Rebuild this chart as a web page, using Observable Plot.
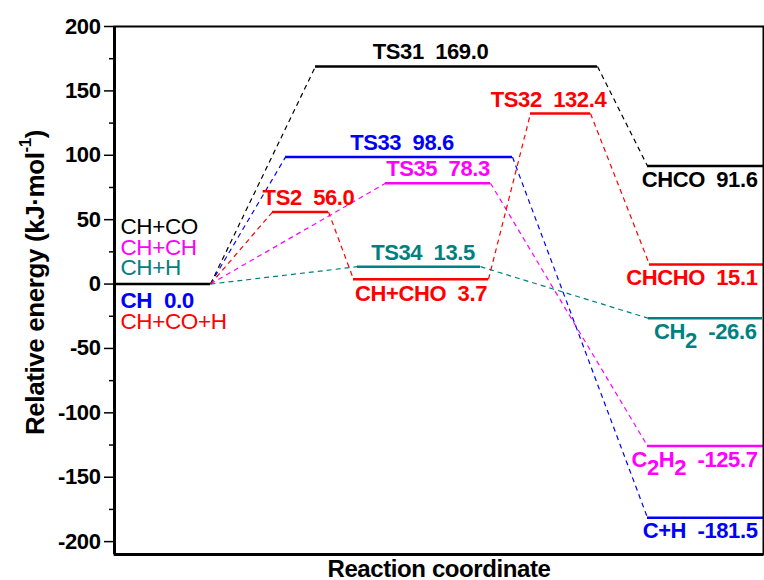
<!DOCTYPE html>
<html>
<head>
<meta charset="utf-8">
<script src="https://cdn.jsdelivr.net/npm/d3@7"></script>
<script src="https://cdn.jsdelivr.net/npm/@observablehq/plot@0.6"></script>
<style>
  html, body { margin: 0; padding: 0; background: #fff; }
</style>
</head>
<body>
<div id="chart"></div>
<script>
// ---------------- DATA ----------------
const levelNames  = ["CH", "TS2", "TS31", "TS33", "TS35", "TS34", "CH+CHO", "TS32", "CHCO", "CHCHO", "CH_{2}", "C_{2}H_{2}", "C+H"];
const levelEnergy = [0.0, 56.0, 169.0, 98.6, 78.3, 13.5, 3.7, 132.4, 91.6, 15.1, -26.6, -125.7, -181.5];
// reaction-coordinate extent of each level
const levelStart  = [1, 158, 201, 171, 271, 243, 239, 416, 533, 535, 534, 533, 533];
const levelEnd    = [96, 214, 483, 398, 376, 366, 374, 476, 649, 649, 648, 649, 649];
const levelSeries = ["CH+CO", "CH+CO+H", "CH+CO", "CH", "CH+CH", "CH+H", "CH+CO+H", "CH+CO+H", "CH+CO", "CH+CO+H", "CH+H", "CH+CH", "CH"];
const seriesNames = ["CH+CO", "CH+CH", "CH+H", "CH", "CH+CO+H"];
const pathSteps   = [
  ["CH", "TS31", "CHCO"],
  ["CH", "TS35", "C_{2}H_{2}"],
  ["CH", "TS34", "CH_{2}"],
  ["CH", "TS33", "C+H"],
  ["CH", "TS2", "CH+CHO", "TS32", "CHCHO"]
];
const yTicks      = [-200, -150, -100, -50, 0, 50, 100, 150, 200];
const yMinorTicks = [-175, -125, -75, -25, 25, 75, 125, 175];
const yLabel = "Relative energy (kJ\u00b7mol^{-1})";
const xLabel = "Reaction coordinate";

// ---------------- STYLE / LAYOUT ----------------
const seriesColors = ["#000000", "#ff00ff", "#008080", "#0000ff", "#ff0000"];
const labelShift = {"TS31": -26, "TS32": -12, "TS2": 8, "TS33": 3, "TS34": 4};
const belowCenter = new Set(["CH+CHO"]);
const belowRight = new Set(["CHCO", "CHCHO", "CH_{2}", "C_{2}H_{2}", "C+H"]);
const leftRows = [
  {series: "CH+CO", dy: -50, bold: false},
  {series: "CH+CH", dy: -29, bold: false},
  {series: "CH+H", dy: -9, bold: false},
  {series: "CH", dy: 24, bold: true},
  {series: "CH+CO+H", dy: 45, bold: false}
];

// ---------------- BUILD ----------------
const sp = "\u00a0\u00a0";
const levels = levelNames.map((name, i) => ({
  name, energy: levelEnergy[i], x1: levelStart[i], x2: levelEnd[i], series: levelSeries[i],
  label: name + sp + levelEnergy[i].toFixed(1)
}));
const byName = new Map(levels.map(d => [d.name, d]));
const links = [];
seriesNames.forEach((s, k) => {
  const steps = pathSteps[k];
  for (let j = 0; j < steps.length - 1; j++) {
    const a = byName.get(steps[j]), b = byName.get(steps[j + 1]);
    links.push({series: s, x1: a.x2, y1: a.energy, x2: b.x1, y2: b.energy});
  }
});
const ch = byName.get("CH");
const leftLabels = leftRows.map(r => ({
  ...r, x: ch.x1, y: ch.energy,
  text: r.series === "CH" ? ch.label : r.series
}));

const above = levels.filter(d => d.name !== "CH" && !belowCenter.has(d.name) && !belowRight.has(d.name));
const belowC = levels.filter(d => belowCenter.has(d.name));
const belowR = levels.filter(d => belowRight.has(d.name));
const center = d => (d.x1 + d.x2) / 2 + (labelShift[d.name] ?? 0);

const font = "'Liberation Sans', Arial, Helvetica, sans-serif";
const lvlFont = {fontSize: 22, fontWeight: "bold", fill: "series"};

const marks = [
  Plot.link(links, {x1: "x1", y1: "y1", x2: "x2", y2: "y2", stroke: "series", strokeWidth: 1.2, strokeDasharray: "5,4"}),
  Plot.ruleY(levels, {y: "energy", x1: "x1", x2: "x2", stroke: "series", strokeWidth: 2.5}),
  Plot.frame({stroke: "#000", strokeWidth: 2}),
  Plot.ruleX([0], {stroke: "#000", strokeWidth: 3}),
  Plot.ruleY([-210], {stroke: "#000", strokeWidth: 3}),
  Plot.axisY({ticks: yTicks, tickSize: 10, tickPadding: 4, strokeWidth: 1.5, fontSize: 22, fontWeight: "bold", label: null, tickFormat: d => String(d)}),
  Plot.axisY({ticks: yMinorTicks, tickSize: 5, strokeWidth: 1.5, label: null, tickFormat: () => ""}),
  Plot.text(above, {x: center, y: "energy", text: "label", lineAnchor: "bottom", dy: -7, ...lvlFont}),
  Plot.text(belowC, {x: center, y: "energy", text: "label", lineAnchor: "top", dy: 6, ...lvlFont}),
  Plot.text(belowR, {x: "x2", y: "energy", text: "label", textAnchor: "end", lineAnchor: "top", dy: 5, dx: -6, ...lvlFont}),
  ...leftLabels.map(r => Plot.text([r], {x: "x", y: "y", text: "text", fill: "series", textAnchor: "start", lineAnchor: "bottom", dx: 5, dy: r.dy, fontSize: 22.5, fontWeight: r.bold ? "bold" : "normal"})),
  Plot.text([yLabel], {frameAnchor: "left", textAnchor: "middle", rotate: -90, dx: -71, dy: -8, lineAnchor: "bottom", fontSize: 26, fontWeight: "bold", fill: "#000"}),
  Plot.text([xLabel], {frameAnchor: "bottom", textAnchor: "middle", dy: 22, lineAnchor: "bottom", fontSize: 24, fontWeight: "bold", fill: "#000"})
];

const plot = Plot.plot({
  width: 764, height: 580,
  marginLeft: 114, marginRight: 1, marginTop: 26, marginBottom: 26,
  x: {domain: [0, 649], axis: null},
  y: {domain: [-210, 200], label: null},
  color: {domain: seriesNames, range: seriesColors},
  style: {fontFamily: font, background: "#fff", overflow: "visible", letterSpacing: "-0.4px", color: "#000"},
  marks
});

// sub/superscript markup: _{..} and ^{..}
d3.select(plot).selectAll("text").each(function () {
  const t = this.textContent;
  if (!/[_^]\{/.test(t)) return;
  const fsEl = this.closest("[font-size]");
  const fs = fsEl ? parseFloat(fsEl.getAttribute("font-size")) : 22;
  const parts = t.split(/([_^]\{[^}]*\})/).filter(p => p);
  this.textContent = "";
  let shift = 0;
  for (const p of parts) {
    const m = p.match(/^([_^])\{([^}]*)\}$/);
    const ts = d3.select(this).append("tspan");
    if (m) {
      const sub = m[1] === "_";
      const target = sub ? 0.4 * fs : -0.5 * fs;
      ts.text(m[2]).attr("dy", target - shift);
      if (!sub) ts.attr("font-size", 0.65 * fs);
      shift = target;
    } else {
      ts.text(p);
      if (shift !== 0) ts.attr("dy", -shift);
      shift = 0;
    }
  }
});

document.getElementById("chart").appendChild(plot);
</script>
</body>
</html>
